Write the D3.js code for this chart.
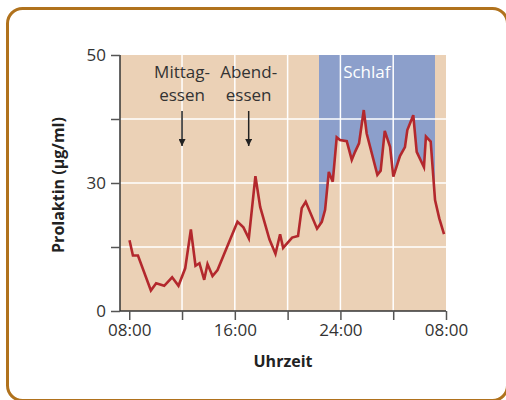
<!DOCTYPE html>
<html>
<head>
<meta charset="utf-8">
<script src="https://cdnjs.cloudflare.com/ajax/libs/d3/7.8.5/d3.min.js"></script>
<style>
  body { margin: 0; background: #fff; }
  svg { display: block; font-family: "Open Sans", "Noto Sans", sans-serif; }
</style>
</head>
<body>
<div id="chart"></div>
<script>
// Prolaktin values over the day (hour since midnight, 24+ = next day)
var hours = [8.02, 8.28, 8.66, 9.64, 10.04, 10.65, 11.25, 11.73, 12.24, 12.67,
  13.02, 13.32, 13.68, 13.93, 14.31, 14.69, 16.20, 16.65, 17.06, 17.56,
  17.92, 18.62, 19.08, 19.43, 19.66, 20.34, 20.79, 21.07, 21.37, 22.23,
  22.59, 22.84, 23.12, 23.42, 23.72, 23.97, 24.48, 24.86, 25.11, 25.41,
  25.77, 25.99, 26.80, 27.05, 27.36, 27.76, 28.01, 28.51, 28.89, 29.07,
  29.52, 29.78, 30.33, 30.48, 30.84, 31.17, 31.49, 31.85];
var prolaktin = [16.6, 13.0, 13.0, 4.8, 6.5, 5.9, 7.9, 5.9, 10.0, 19.1,
  10.6, 11.2, 7.3, 11.0, 8.2, 9.6, 20.9, 19.6, 17.0, 31.6,
  24.4, 16.8, 13.4, 18.0, 14.8, 17.2, 17.6, 24.1, 25.6, 19.3,
  20.9, 23.7, 32.6, 30.3, 40.7, 40.1, 39.8, 35.4, 37.3, 39.3,
  47.1, 41.6, 31.9, 32.9, 42.2, 38.5, 31.5, 36.3, 38.4, 42.4,
  45.9, 37.3, 33.7, 40.9, 39.7, 26.0, 21.7, 18.0];

// sleep period and meals
var sleepRange = [22.38, 31.17];
var sleepLabel = "Schlaf";
var mealHours = [12.0, 17.05];
var mealLabels = [["Mittag-", "essen"], ["Abend-", "essen"]];

// axis ticks (the printed top label reads 50)
var xTicks = [8, 12, 16, 20, 24, 28, 32];
var xTickLabels = ["08:00", "", "16:00", "", "24:00", "", "08:00"];
var yTicks = [0, 15, 30, 45, 60];
var yTickLabels = ["0", "", "30", "", "50"];
var xGrid = [12, 16, 20, 24, 28];
var yGrid = [15, 30, 45];

var width = 506, height = 400;
var plot = {left: 120, right: 446, top: 55, bottom: 311};

var svg = d3.select("#chart").append("svg")
  .attr("width", width)
  .attr("height", height);

// outer frame
svg.append("rect")
  .attr("x", 7.5).attr("y", 8.5)
  .attr("width", 500).attr("height", 392)
  .attr("rx", 15)
  .attr("fill", "#fff")
  .attr("stroke", "#b0721d")
  .attr("stroke-width", 3);

var x = d3.scaleLinear().domain([7.3, 32]).range([plot.left, plot.right]);
var y = d3.scaleLinear().domain([0, 60]).range([plot.bottom, plot.top]);

var data = hours.map(function(h, i) { return {h: h, v: prolaktin[i]}; });

// plot background
svg.append("rect")
  .attr("x", plot.left).attr("y", plot.top)
  .attr("width", plot.right - plot.left)
  .attr("height", plot.bottom - plot.top)
  .attr("fill", "#ebd1b6");

// sleep band: blue from top down to the curve
svg.append("clipPath").attr("id", "sleepClip")
  .append("rect")
    .attr("x", x(sleepRange[0]))
    .attr("y", plot.top)
    .attr("width", x(sleepRange[1]) - x(sleepRange[0]))
    .attr("height", plot.bottom - plot.top);

svg.append("path")
  .datum(data)
  .attr("clip-path", "url(#sleepClip)")
  .attr("fill", "#8c9fcb")
  .attr("d", d3.area()
    .x(function(d) { return x(d.h); })
    .y0(y(60))
    .y1(function(d) { return y(d.v); }));

// grid
svg.append("g").selectAll("line")
  .data(yGrid).enter().append("line")
    .attr("x1", plot.left).attr("x2", plot.right)
    .attr("y1", function(d) { return y(d); })
    .attr("y2", function(d) { return y(d); })
    .attr("stroke", "#fff").attr("stroke-width", 1.5);
svg.append("g").selectAll("line")
  .data(xGrid).enter().append("line")
    .attr("x1", function(d) { return x(d); })
    .attr("x2", function(d) { return x(d); })
    .attr("y1", plot.top).attr("y2", plot.bottom)
    .attr("stroke", "#fff").attr("stroke-width", 1.5);

// axes
var yAxis = svg.append("g")
  .attr("transform", "translate(" + plot.left + ",0)")
  .call(d3.axisLeft(y).tickValues(yTicks).tickSize(9).tickPadding(5)
    .tickFormat(function(d, i) { return yTickLabels[i]; }));
var xAxis = svg.append("g")
  .attr("transform", "translate(0," + plot.bottom + ")")
  .call(d3.axisBottom(x).tickValues(xTicks).tickSize(9).tickPadding(4)
    .tickFormat(function(d, i) { return xTickLabels[i]; }));
xAxis.select(".domain").attr("d", "M" + plot.left + ",0H" + plot.right);
yAxis.select(".domain").attr("d", "M0," + plot.top + "V" + plot.bottom);

[xAxis, yAxis].forEach(function(a) {
  a.select(".domain").attr("stroke", "#333").attr("stroke-width", 1.5);
  a.selectAll(".tick line").attr("stroke", "#555").attr("stroke-width", 1.5);
  a.selectAll(".tick text")
    .attr("fill", "#333")
    .style("font-size", "17px")
    .style("font-family", "'Open Sans', sans-serif");
});

// prolaktin curve
svg.append("path")
  .datum(data)
  .attr("fill", "none")
  .attr("stroke", "#b3282d")
  .attr("stroke-width", 2.6)
  .attr("stroke-linejoin", "miter")
  .attr("d", d3.line()
    .x(function(d) { return x(d.h); })
    .y(function(d) { return y(d.v); }));

// sleep label
svg.append("text")
  .attr("x", x(26.0)).attr("y", 78)
  .attr("text-anchor", "middle")
  .attr("fill", "#fff")
  .style("font-size", "17px")
  .text(sleepLabel);

// meal annotations
var defs = svg.append("defs");
defs.append("marker")
  .attr("id", "arrow")
  .attr("viewBox", "0 0 10 10")
  .attr("refX", 10).attr("refY", 5)
  .attr("markerWidth", 7).attr("markerHeight", 7)
  .attr("markerUnits", "userSpaceOnUse")
  .attr("orient", "auto")
  .append("path").attr("d", "M0,0L10,5L0,10Z").attr("fill", "#222");

mealHours.forEach(function(h, i) {
  var t = svg.append("text")
    .attr("text-anchor", "middle")
    .attr("fill", "#333")
    .style("font-size", "17px");
  t.append("tspan").attr("x", x(h)).attr("y", 78).text(mealLabels[i][0]);
  t.append("tspan").attr("x", x(h)).attr("y", 101).text(mealLabels[i][1]);
  svg.append("line")
    .attr("x1", x(h)).attr("x2", x(h))
    .attr("y1", 111).attr("y2", 146)
    .attr("stroke", "#222").attr("stroke-width", 1.5)
    .attr("marker-end", "url(#arrow)");
});

// axis titles
svg.append("text")
  .attr("x", (plot.left + plot.right) / 2 + 0)
  .attr("y", 367)
  .attr("text-anchor", "middle")
  .attr("fill", "#222")
  .style("font-size", "16px")
  .style("font-weight", "bold")
  .text("Uhrzeit");

svg.append("text")
  .attr("transform", "translate(64," + 185 + ") rotate(-90)")
  .attr("text-anchor", "middle")
  .attr("fill", "#222")
  .style("font-size", "16px")
  .style("font-weight", "bold")
  .text("Prolaktin (µg/ml)");
</script>
</body>
</html>
